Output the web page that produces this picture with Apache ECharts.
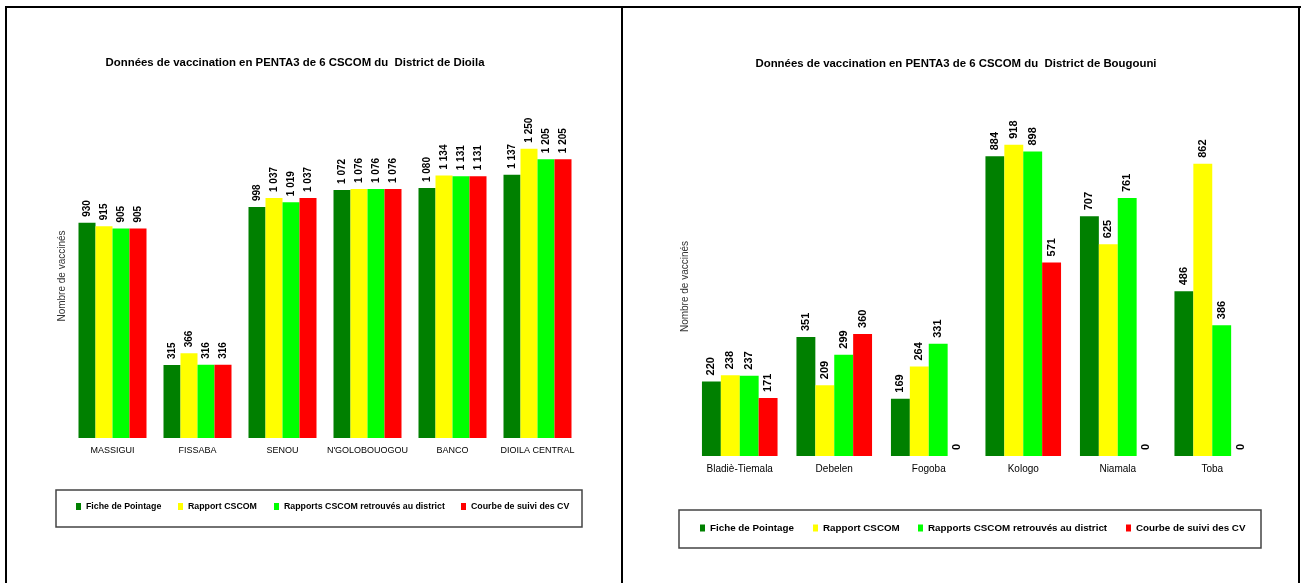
<!DOCTYPE html>
<html>
<head>
<meta charset="utf-8">
<script src="https://cdn.jsdelivr.net/npm/echarts@6/dist/echarts.min.js"></script>
<style>
  html, body { margin: 0; padding: 0; background: #fff; }
  #wrap { position: relative; width: 1305px; height: 583px; }
  #chart { position: absolute; left: 0; top: 0; width: 1305px; height: 583px; }
  .ln { position: absolute; background: #000; }
</style>
</head>
<body>
<div id="wrap">
  <div id="chart"></div>
  <div class="ln" style="left:5px;top:6px;width:1296px;height:2px"></div>
  <div class="ln" style="left:5px;top:6px;width:2px;height:577px"></div>
  <div class="ln" style="left:621px;top:6px;width:2px;height:577px"></div>
  <div class="ln" style="left:1298px;top:6px;width:2px;height:577px"></div>
</div>
<script>
// District de Dioila
var catDioila = ['MASSIGUI', 'FISSABA', 'SENOU', "N'GOLOBOUOGOU", 'BANCO', 'DIOILA CENTRAL']
var ficheDioila = [930, 315, 998, 1072, 1080, 1137]
var rapportDioila = [915, 366, 1037, 1076, 1134, 1250]
var retrouvesDioila = [905, 316, 1019, 1076, 1131, 1205]
var courbeDioila = [905, 316, 1037, 1076, 1131, 1205]

// District de Bougouni
var catBougouni = ['Bladiè-Tiemala', 'Debelen', 'Fogoba', 'Kologo', 'Niamala', 'Toba']
var ficheBougouni = [220, 351, 169, 884, 707, 486]
var rapportBougouni = [238, 209, 264, 918, 625, 862]
var retrouvesBougouni = [237, 299, 331, 898, 761, 386]
var courbeBougouni = [171, 360, 0, 571, 0, 0]

var seriesNames = ['Fiche de Pointage', 'Rapport CSCOM', 'Rapports CSCOM retrouvés au district', 'Courbe de suivi des CV']
var colors = ['#008000', '#ffff00', '#00ff00', '#ff0000']

var arial = "'Liberation Sans', Arial, sans-serif"

function fmt (p) {
  return String(p.value).replace(/\B(?=(\d{3})+(?!\d))/g, ' ')
}

function makeSeries (idx, arrays, fontSize) {
  return arrays.map(function (d, i) {
    return {
      name: seriesNames[i],
      type: 'bar',
      xAxisIndex: idx,
      yAxisIndex: idx,
      data: d,
      barGap: '0%',
      barCategoryGap: '20%',
      itemStyle: { color: colors[i] },
      label: {
        show: true,
        position: 'top',
        rotate: 90,
        align: 'left',
        verticalAlign: 'middle',
        distance: 6,
        color: '#000',
        fontWeight: 'bold',
        fontSize: fontSize,
        fontFamily: arial,
        formatter: fmt
      }
    }
  })
}

// one legend per item so each sits where the reference puts it
function legendItems (xs, y, fontSize) {
  return xs.map(function (x, i) {
    return {
      left: x,
      top: y,
      data: [seriesNames[i]],
      icon: 'rect',
      itemWidth: 5,
      itemHeight: 7,
      padding: 0,
      textStyle: { color: '#000', fontSize: fontSize, fontWeight: 'bold', fontFamily: arial }
    }
  })
}

function catAxis (idx, data, fontSize, margin) {
  return {
    type: 'category',
    gridIndex: idx,
    data: data,
    axisLine: { show: false },
    axisTick: { show: false },
    axisLabel: { color: '#000', fontSize: fontSize, fontFamily: arial, margin: margin, interval: 0 }
  }
}

function valAxis (idx, max, gap) {
  return {
    type: 'value',
    gridIndex: idx,
    min: 0,
    max: max,
    name: 'Nombre de vaccinés',
    nameLocation: 'middle',
    nameGap: gap,
    nameTextStyle: { color: '#333', fontSize: 10, fontFamily: arial },
    axisLine: { show: false },
    axisTick: { show: false },
    axisLabel: { show: false },
    splitLine: { show: false }
  }
}

var myChart = echarts.init(document.getElementById('chart'))
var option = {
  animation: false,
  title: [
    {
      text: 'Données de vaccination en PENTA3 de 6 CSCOM du  District de Dioila',
      left: 290, top: 52, textAlign: 'center',
      textStyle: { fontSize: 11.4, fontWeight: 'bold', fontFamily: arial, color: '#000' }
    },
    {
      text: 'Données de vaccination en PENTA3 de 6 CSCOM du  District de Bougouni',
      left: 951, top: 53, textAlign: 'center',
      textStyle: { fontSize: 11.4, fontWeight: 'bold', fontFamily: arial, color: '#000' }
    }
  ],
  legend: legendItems([76, 178, 274, 461], 502, 8.8).concat(legendItems([700, 813, 918, 1126], 523, 9.8)),
  graphic: [
    { type: 'rect', shape: { x: 56, y: 490, width: 526, height: 37 }, style: { fill: 'none', stroke: '#444', lineWidth: 1.5 } },
    { type: 'rect', shape: { x: 679, y: 510, width: 582, height: 38 }, style: { fill: 'none', stroke: '#444', lineWidth: 1.5 } }
  ],
  grid: [
    { left: 70, width: 510, top: 114, bottom: 145 },
    { left: 692.5, width: 567, top: 117, bottom: 127 }
  ],
  xAxis: [catAxis(0, catDioila, 9, 8), catAxis(1, catBougouni, 10, 8)],
  yAxis: [valAxis(0, 1400, 3), valAxis(1, 1000, 2)],
  series: makeSeries(0, [ficheDioila, rapportDioila, retrouvesDioila, courbeDioila], 10)
    .concat(makeSeries(1, [ficheBougouni, rapportBougouni, retrouvesBougouni, courbeBougouni], 11))
}
myChart.setOption(option)
</script>
</body>
</html>
